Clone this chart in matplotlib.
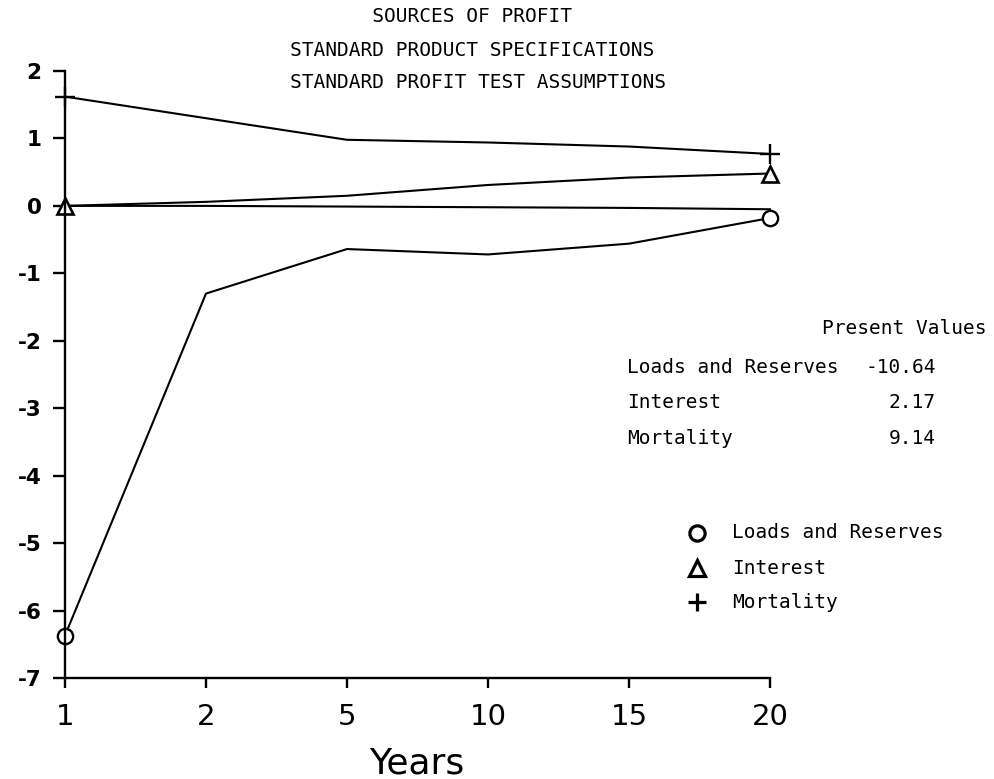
import matplotlib
matplotlib.use("Agg")
import matplotlib.pyplot as plt
from matplotlib.lines import Line2D

# values
years = ["1", "2", "5", "10", "15", "20"]
loads_reserves = [-6.37, -1.30, -0.64, -0.72, -0.56, -0.18]
interest = [0.0, 0.06, 0.15, 0.31, 0.42, 0.48]
mortality = [1.62, 1.30, 0.98, 0.94, 0.88, 0.77]
baseline = [0.0, 0.0, -0.01, -0.02, -0.03, -0.05]

pv_labels = ["Loads and Reserves", "Interest", "Mortality"]
pv_values = ["-10.64", "2.17", "9.14"]
pv_markers = ["o", "^", "+"]

# plotter output is left aligned on a character grid
title_lines = ["       SOURCES OF PROFIT",
               "STANDARD PRODUCT SPECIFICATIONS",
               "STANDARD PROFIT TEST ASSUMPTIONS"]

W, H = 994, 779
mono = "DejaVu Sans Mono"

fig = plt.figure(figsize=(W / 100, H / 100), dpi=100)
# axes box in pixels: x from 65 to 770, y (2) at 71 down to (-7) at 678
ax = fig.add_axes([65 / W, 1 - 678 / H, (770 - 65) / W, (678 - 71) / H])

x = list(range(len(years)))
lw = 1.5
ax.plot(x, baseline, color="black", lw=lw)
ax.plot(x, loads_reserves, color="black", lw=lw, marker="o", markevery=[0, -1],
        ms=11, mfc="white", mec="black", mew=1.7)
ax.plot(x, interest, color="black", lw=lw, marker="^", markevery=[0, -1],
        ms=11, mfc="white", mec="black", mew=1.9)
ax.plot(x, mortality, color="black", lw=lw, marker="+", markevery=[0, -1],
        ms=15, mew=1.7)

ax.set_xlim(0, len(years) - 1)
ax.set_ylim(-7, 2)
ax.set_xticks(x)
ax.set_xticklabels(years, fontsize=21)
ax.set_yticks(range(-7, 3))
ax.set_yticklabels([str(v) for v in range(-7, 3)],
                   fontsize=15.5, fontweight="bold")
for s in ["top", "right"]:
    ax.spines[s].set_visible(False)
for s in ["left", "bottom"]:
    ax.spines[s].set_linewidth(1.7)
ax.tick_params(axis="y", length=9, width=1.7, pad=8)
ax.tick_params(axis="x", length=7, width=1.7, pad=11)
ax.patch.set_alpha(0)
for line in ax.lines:
    line.set_clip_on(False)


def px(xp, yp):
    return xp / W, 1 - yp / H


for ty, t in zip([16, 50, 83], title_lines):
    fig.text(*px(290, ty), t, family=mono, fontsize=14, ha="left", va="center")

fig.text(*px(987, 328), "Present Values", family=mono, fontsize=14,
         ha="right", va="center")
for ry, lab, val in zip([368, 403, 438], pv_labels, pv_values):
    fig.text(*px(627, ry), lab, family=mono, fontsize=14, ha="left", va="center")
    fig.text(*px(936, ry), val, family=mono, fontsize=14, ha="right", va="center")

# key: marker symbols with labels
for ry, lab, mk in zip([533, 568, 602], pv_labels, pv_markers):
    fig.add_artist(Line2D([697 / W], [1 - ry / H], transform=fig.transFigure,
                          ls="none", marker=mk, ms=11 if mk != "+" else 13,
                          mfc="white", mec="black", mew=2.3))
    fig.text(*px(732, ry), lab, family=mono, fontsize=14, ha="left", va="center")

fig.text(*px(417, 763), "Years", fontsize=26, ha="center", va="center")

fig.savefig("out.png", dpi=100)
